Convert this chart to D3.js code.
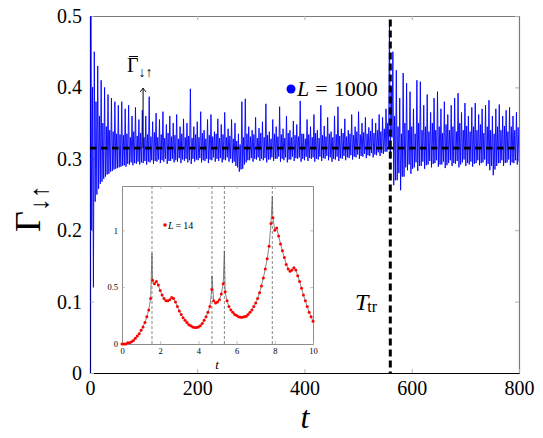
<!DOCTYPE html>
<html><head><meta charset="utf-8">
<script src="https://cdn.jsdelivr.net/npm/d3@7"></script>
<style>body{margin:0;background:#fff}svg{display:block}</style>
</head><body><svg id="c" width="543" height="438"></svg>
<script>
// ---------------- data ----------------
const xTicks = [0, 200, 400, 600, 800];
const yTicks = [0, 0.1, 0.2, 0.3, 0.4, 0.5];
const startPoint = [0, 0];
const period = 6.4;       // time of one oscillation cycle
const peakT0 = 1.6;       // time of first large peak
// each cycle: large peak, deep trough, small peak, shallow trough
const upperValues = [
0.50,0.45,0.43,0.41,0.40,0.39,0.385,0.38,0.375,0.38,
0.37,0.375,0.36,0.372,0.355,0.368,0.36,0.387,0.352,0.364,
0.355,0.366,0.348,0.36,0.35,0.362,0.345,0.356,0.35,0.398,
0.345,0.352,0.366,0.34,0.355,0.362,0.338,0.356,0.348,0.365,
0.342,0.355,0.35,0.335,0.38,0.384,0.345,0.34,0.358,0.343,
0.352,0.377,0.338,0.355,0.345,0.373,0.342,0.36,0.34,0.353,
0.348,0.381,0.335,0.355,0.345,0.362,0.34,0.375,0.346,0.358,
0.338,0.36,0.373,0.342,0.356,0.34,0.362,0.345,0.366,0.35,
0.358,0.344,0.356,0.35,0.362,0.358,0.37,0.487,0.45,0.424,
0.385,0.42,0.406,0.394,0.37,0.41,0.408,0.375,0.39,0.365,
0.385,0.394,0.37,0.38,0.362,0.375,0.385,0.392,0.365,0.378,
0.36,0.372,0.378,0.362,0.37,0.375,0.382,0.36,0.37,0.376,
0.36,0.368,0.372,0.36,0.365];
const lowerValues = [
0.20,0.24,0.258,0.268,0.275,0.279,0.283,0.286,0.288,0.29,
0.289,0.292,0.291,0.293,0.292,0.294,0.292,0.295,0.293,0.296,
0.294,0.296,0.293,0.297,0.295,0.296,0.294,0.297,0.295,0.293,
0.296,0.298,0.295,0.297,0.294,0.298,0.296,0.297,0.295,0.298,
0.296,0.294,0.29,0.282,0.286,0.295,0.298,0.296,0.299,0.297,
0.298,0.295,0.299,0.297,0.3,0.296,0.298,0.295,0.299,0.297,
0.3,0.296,0.298,0.297,0.3,0.296,0.299,0.297,0.3,0.298,
0.296,0.299,0.297,0.3,0.298,0.301,0.299,0.302,0.3,0.303,
0.301,0.304,0.302,0.305,0.304,0.307,0.31,0.30,0.263,0.27,
0.256,0.275,0.284,0.279,0.288,0.283,0.29,0.286,0.292,0.288,
0.294,0.289,0.292,0.287,0.294,0.29,0.293,0.288,0.295,0.29,
0.292,0.289,0.294,0.291,0.295,0.29,0.284,0.277,0.29,0.294,
0.29,0.295,0.291,0.294,0.292];
const midPeakValues = [
0.40,0.38,0.36,0.35,0.345,0.34,0.338,0.335,0.334,0.333,
0.335,0.33,0.338,0.332,0.336,0.33,0.334,0.331,0.337,0.33,
0.334,0.329,0.336,0.331,0.333,0.328,0.335,0.33,0.332,0.329,
0.334,0.33,0.336,0.328,0.333,0.331,0.335,0.329,0.334,0.33,
0.332,0.328,0.325,0.32,0.33,0.335,0.331,0.334,0.329,0.336,
0.33,0.333,0.328,0.335,0.331,0.334,0.329,0.336,0.33,0.333,
0.331,0.335,0.328,0.334,0.33,0.336,0.329,0.333,0.331,0.335,
0.33,0.334,0.332,0.336,0.331,0.335,0.333,0.338,0.334,0.337,
0.335,0.339,0.336,0.34,0.338,0.342,0.35,0.40,0.36,0.345,
0.335,0.35,0.34,0.345,0.335,0.35,0.34,0.345,0.338,0.35,
0.34,0.345,0.336,0.348,0.34,0.345,0.338,0.35,0.34,0.346,
0.338,0.345,0.34,0.348,0.336,0.345,0.34,0.335,0.345,0.34,
0.346,0.338,0.345,0.34,0.344];
const midTroughValues = [
0.12,0.25,0.265,0.272,0.278,0.282,0.285,0.287,0.289,0.291,
0.293,0.295,0.294,0.296,0.295,0.297,0.296,0.298,0.297,0.299,
0.298,0.3,0.297,0.3,0.298,0.301,0.299,0.3,0.298,0.3,
0.299,0.301,0.298,0.3,0.299,0.302,0.3,0.301,0.299,0.302,
0.3,0.296,0.288,0.285,0.292,0.298,0.301,0.3,0.302,0.3,
0.301,0.299,0.302,0.3,0.303,0.3,0.302,0.299,0.303,0.301,
0.302,0.3,0.303,0.301,0.302,0.3,0.303,0.301,0.304,0.302,
0.3,0.303,0.301,0.304,0.302,0.305,0.303,0.306,0.304,0.307,
0.305,0.308,0.306,0.309,0.308,0.31,0.315,0.33,0.27,0.28,
0.275,0.288,0.292,0.286,0.295,0.29,0.296,0.291,0.297,0.293,
0.298,0.292,0.296,0.291,0.298,0.294,0.297,0.292,0.299,0.294,
0.296,0.293,0.298,0.294,0.299,0.293,0.29,0.285,0.294,0.298,
0.294,0.299,0.295,0.298,0.296];
const gammaBar = 0.315;
const tTransition = 560;
const annotT = 99, annotTop = 0.399;

// inset data (L = 14)
const insetXTicks = [0, 2, 4, 6, 8, 10];
const insetYTicks = [0, 0.5, 1];
const insetT = d3.range(0, 101).map(i => i / 10);
const insetGamma = [
0.00,0.00,0.00,0.01,0.01,0.02,0.03,0.05,0.07,0.09,
0.12,0.15,0.19,0.24,0.30,0.40,0.56,0.53,0.55,0.52,
0.47,0.43,0.40,0.38,0.38,0.39,0.41,0.40,0.37,0.33,
0.29,0.26,0.23,0.21,0.19,0.17,0.16,0.15,0.145,0.145,
0.15,0.16,0.18,0.21,0.24,0.28,0.33,0.48,0.38,0.36,
0.37,0.39,0.44,0.53,0.46,0.38,0.33,0.30,0.28,0.26,
0.25,0.24,0.235,0.235,0.24,0.245,0.26,0.28,0.30,0.33,
0.36,0.40,0.45,0.51,0.58,0.66,0.75,0.86,1.06,1.11,
1.00,1.02,0.95,0.88,0.82,0.76,0.70,0.66,0.64,0.65,
0.67,0.65,0.60,0.55,0.49,0.43,0.38,0.33,0.28,0.24,0.20];
const spikeT = [1.57, 4.71, 5.36, 7.87];
const spikeGamma = [0.80, 0.60, 0.82, 1.30];

// ---------------- drawing ----------------
const svg = d3.select("#c");
const serif = "'Liberation Serif','DejaVu Serif',serif";
const x = d3.scaleLinear().domain([0, 800]).range([90, 519]);
const y = d3.scaleLinear().domain([0, 0.5]).range([373, 16]);

svg.append("defs").append("clipPath").attr("id", "clipMain")
  .append("rect").attr("x", x(0)).attr("y", y(0.5)).attr("width", x(800) - x(0)).attr("height", y(0) - y(0.5));

function styleAxis(g, size, domainColor) {
  g.selectAll(".tick line").attr("stroke", "#b0b0b0");
  g.selectAll("text").style("font-family", serif).attr("font-size", size).attr("fill", "#000");
  g.select(".domain").attr("stroke", domainColor).attr("stroke-width", 1.2);
}
const fmt = d => d === 0 ? "0" : d3.format(".1f")(d);
svg.append("g").attr("transform", "translate(0,16)")
  .call(d3.axisTop(x).tickValues(xTicks).tickSizeInner(-4).tickSizeOuter(0).tickFormat(""))
  .call(g => styleAxis(g, 0, "#7a7a7a"));
svg.append("g").attr("transform", "translate(519,0)")
  .call(d3.axisRight(y).tickValues(yTicks).tickSizeInner(-4).tickSizeOuter(0).tickFormat(""))
  .call(g => styleAxis(g, 0, "#7a7a7a"));
svg.append("g").attr("transform", "translate(0,373)")
  .call(d3.axisBottom(x).tickValues(xTicks).tickSizeInner(-4).tickSizeOuter(0).tickPadding(8).tickFormat(d3.format("d")))
  .call(g => styleAxis(g, 20, "#000"));
svg.append("g").attr("transform", "translate(90,0)")
  .call(d3.axisLeft(y).tickValues(yTicks).tickSizeInner(-4).tickSizeOuter(0).tickPadding(8).tickFormat(fmt))
  .call(g => styleAxis(g, 20, "#000"));

// main series
const step = period / 4;
const series = [startPoint];
upperValues.forEach((v, k) => {
  const t = peakT0 + k * period;
  series.push([t, v]);
  series.push([t + step, lowerValues[k]]);
  series.push([t + 2 * step, midPeakValues[k]]);
  series.push([t + 3 * step, midTroughValues[k]]);
});
const line = d3.line().x(d => x(d[0])).y(d => y(d[1]));
svg.append("path").datum(series).attr("d", line)
  .attr("clip-path", "url(#clipMain)")
  .attr("fill", "none").attr("stroke", "#0000ff").attr("stroke-width", 0.9);

// dashed mean line
svg.append("line").attr("x1", x(0)).attr("x2", x(800)).attr("y1", y(gammaBar)).attr("y2", y(gammaBar))
  .attr("stroke", "#000").attr("stroke-width", 2.6).attr("stroke-dasharray", "6.5,4.5");
// transition line
svg.append("line").attr("x1", x(tTransition)).attr("x2", x(tTransition)).attr("y1", y(0.495)).attr("y2", y(0))
  .attr("stroke", "#000").attr("stroke-width", 3).attr("stroke-dasharray", "7,4");

// annotation arrow
svg.append("line").attr("x1", x(annotT)).attr("x2", x(annotT)).attr("y1", y(gammaBar)).attr("y2", y(annotTop))
  .attr("stroke", "#000").attr("stroke-width", 1);
svg.append("path")
  .attr("d", `M${x(annotT)-3},${y(annotTop)+4} Q${x(annotT)-1},${y(annotTop)+1.5} ${x(annotT)},${y(annotTop)} Q${x(annotT)+1},${y(annotTop)+1.5} ${x(annotT)+3},${y(annotTop)+4}`)
  .attr("fill", "none").attr("stroke", "#000").attr("stroke-width", 0.9);
// macron bar over Γ
svg.append("line").attr("x1", 129).attr("x2", 138).attr("y1", 56.5).attr("y2", 56.5)
  .attr("stroke", "#000").attr("stroke-width", 1);
const ann = svg.append("text").attr("x", 127).attr("y", 72).style("font-family", serif).attr("font-size", 20);
ann.append("tspan").text("Γ");
ann.append("tspan").attr("font-size", 14).attr("dy", 5).text("↓↑");

// legend L = 1000
svg.append("circle").attr("cx", 291).attr("cy", 89).attr("r", 4.5).attr("fill", "#0000ff");
const lg = svg.append("text").attr("x", 297).attr("y", 96).style("font-family", serif).attr("font-size", 22);
lg.append("tspan").attr("font-style", "italic").text("L");
lg.append("tspan").attr("dx", 6).text("=");
lg.append("tspan").attr("dx", 6).text("1000");

// T_tr
const tt = svg.append("text").attr("x", 355).attr("y", 310).style("font-family", serif).attr("font-size", 24);
tt.append("tspan").attr("font-style", "italic").text("T");
tt.append("tspan").attr("font-size", 16).attr("dy", 2).attr("dx", -1).text("tr");

// axis labels
svg.append("text").attr("x", 305).attr("y", 428).attr("text-anchor", "middle")
  .style("font-family", serif).attr("font-style", "italic").attr("font-size", 32).text("t");
const yl = svg.append("text").attr("transform", "translate(40,232) rotate(-90)")
  .style("font-family", serif).attr("font-size", 36);
yl.append("tspan").text("Γ");
yl.append("tspan").attr("font-size", 26).attr("dy", 8).text("↓↑");

// ---------------- inset ----------------
const xi = d3.scaleLinear().domain([0, 10]).range([122, 313]);
const yi = d3.scaleLinear().domain([0, 1.39]).range([344, 186]);
const inset = svg.append("g");
inset.append("rect").attr("x", xi(0)).attr("y", yi(1.39)).attr("width", xi(10) - xi(0)).attr("height", yi(0) - yi(1.39))
  .attr("fill", "#fff");
function styleInset(g) {
  g.selectAll(".tick line").attr("stroke", "#b0b0b0").attr("stroke-width", 0.8);
  g.selectAll("text").style("font-family", serif).attr("font-size", 8.5).attr("fill", "#000");
  g.select(".domain").attr("stroke", "#8c8c8c").attr("stroke-width", 1);
}
inset.append("g").attr("transform", `translate(0,${yi(1.39)})`)
  .call(d3.axisTop(xi).tickValues(insetXTicks).tickSizeInner(-3).tickSizeOuter(0).tickFormat("")).call(styleInset);
inset.append("g").attr("transform", `translate(${xi(10)},0)`)
  .call(d3.axisRight(yi).tickValues(insetYTicks).tickSizeInner(-3).tickSizeOuter(0).tickFormat("")).call(styleInset);
inset.append("g").attr("transform", `translate(0,${yi(0)})`)
  .call(d3.axisBottom(xi).tickValues(insetXTicks).tickSizeInner(-3).tickSizeOuter(0).tickPadding(4).tickFormat(d3.format("d"))).call(styleInset);
inset.append("g").attr("transform", `translate(${xi(0)},0)`)
  .call(d3.axisLeft(yi).tickValues(insetYTicks).tickSizeInner(-3).tickSizeOuter(0).tickPadding(4).tickFormat(d => d === 0 ? "0" : (d === 1 ? "1" : d3.format(".1f")(d)))).call(styleInset);

// spike markers
inset.selectAll(".vl").data(spikeT).join("line")
  .attr("x1", d => xi(d)).attr("x2", d => xi(d)).attr("y1", yi(1.39)).attr("y2", yi(0))
  .attr("stroke", "#6a6a6a").attr("stroke-width", 0.8).attr("stroke-dasharray", "3,2");

// fine line with spikes
const fine = insetT.map((t, i) => [t, insetGamma[i]])
  .concat(spikeT.map((t, i) => [t, spikeGamma[i]]))
  .sort((a, b) => a[0] - b[0]);
const li = d3.line().x(d => xi(d[0])).y(d => yi(d[1]));
inset.append("path").datum(fine).attr("d", li).attr("fill", "none").attr("stroke", "#555").attr("stroke-width", 0.7);
inset.selectAll(".dot").data(insetT.map((t, i) => [t, insetGamma[i]])).join("circle")
  .attr("cx", d => xi(d[0])).attr("cy", d => yi(d[1])).attr("r", 1.5).attr("fill", "#ff0000");

// inset legend
inset.append("circle").attr("cx", 165).attr("cy", 225).attr("r", 1.8).attr("fill", "#ff0000");
const il = inset.append("text").attr("x", 168).attr("y", 228.5).style("font-family", serif).attr("font-size", 10);
il.append("tspan").attr("font-style", "italic").text("L");
il.append("tspan").attr("dx", 2).text("=");
il.append("tspan").attr("dx", 2).text("14");
inset.append("text").attr("x", 217).attr("y", 369).attr("text-anchor", "middle")
  .style("font-family", serif).attr("font-style", "italic").attr("font-size", 13).text("t");
</script></body></html>
